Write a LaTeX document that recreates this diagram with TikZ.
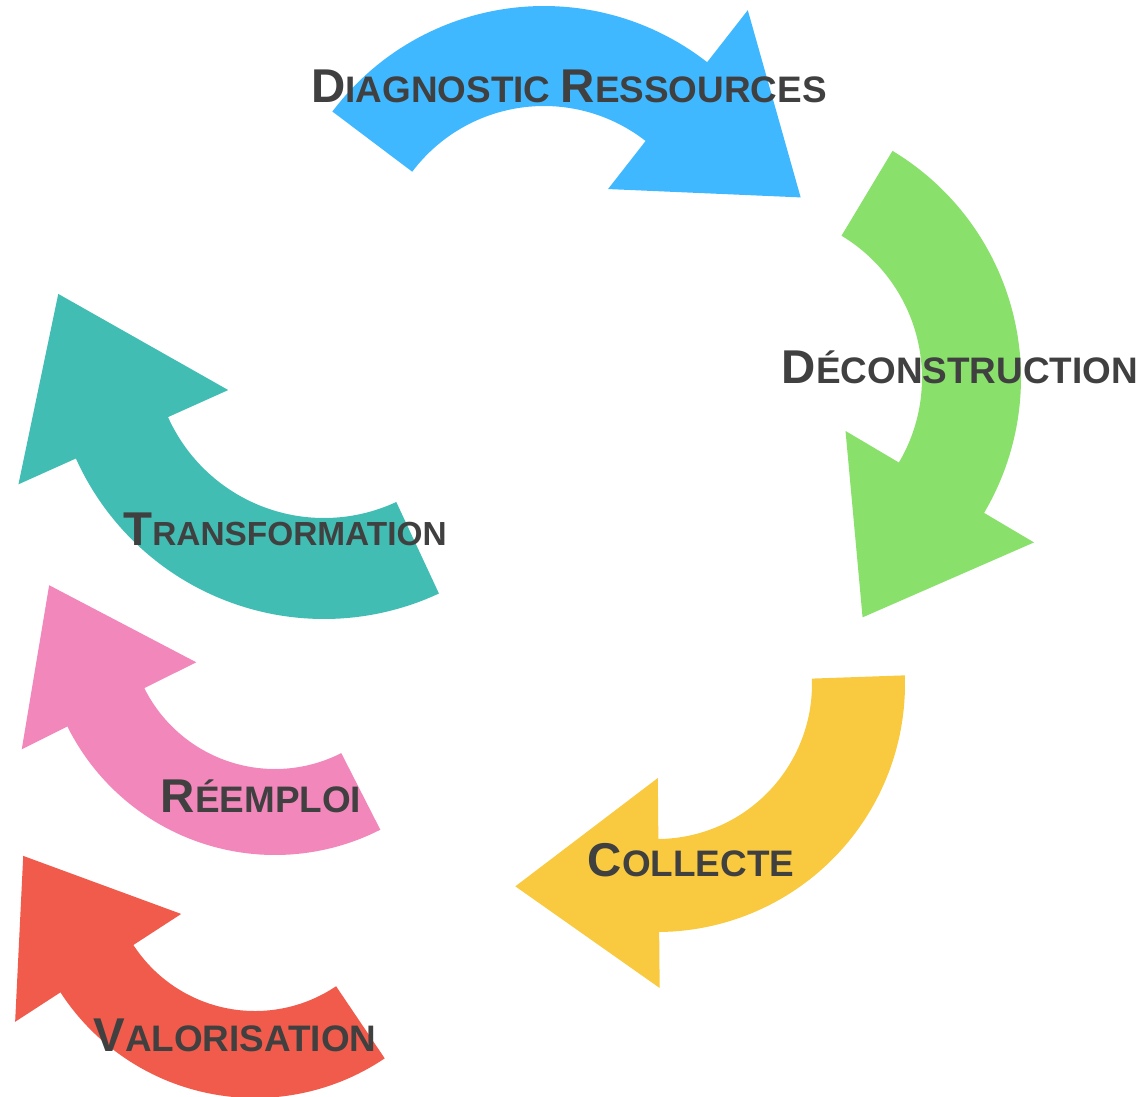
\documentclass[tikz,border=0pt]{standalone}
\usepackage{fontspec}
\setmainfont{Liberation Sans}
\usepackage{tikz}

\definecolor{diagblue}{HTML}{40B8FF}
\definecolor{decongreen}{HTML}{89E16B}
\definecolor{collyellow}{HTML}{F9CA3F}
\definecolor{transteal}{HTML}{41BDB4}
\definecolor{reempink}{HTML}{F287BB}
\definecolor{valored}{HTML}{F15B4B}
\definecolor{labelgray}{HTML}{404040}

\newcommand{\grand}{\fontsize{27}{30}\selectfont}
\newcommand{\petit}{\fontsize{21}{24}\selectfont}

\begin{document}
\begin{tikzpicture}[x=0.02cm, y=-0.02cm, samples=60,
		lbl/.style={text=labelgray, anchor=base, inner sep=0pt, font=\bfseries}]
		\useasboundingbox (0,0) rectangle (1145,1096);

		% Diagnostic ressources
		\begin{scope}[shift={(544,271)}]
			\fill[diagblue] plot[domain=217:308] (\x:265) -- (308:331) -- (344:267) -- (308:104)
				-- plot[domain=308:217] (\x:165) -- cycle;
		\end{scope}
		% Deconstruction
		\begin{scope}[shift={(756,378)}]
			\fill[decongreen] plot[domain=-59:30.6] (\x:265) -- (30.6:323) -- (66:262) -- (30.6:104)
				-- plot[domain=30.6:-59] (\x:166) -- cycle;
		\end{scope}
		% Collecte
		\begin{scope}[shift={(657,684)}]
			\fill[collyellow] plot[domain=-2:89.5] (\x:248) -- (89.5:304) -- (125:247) -- (89.5:94)
				-- plot[domain=89.5:-2] (\x:155) -- cycle;
		\end{scope}
		% Transformation
		\begin{scope}[shift={(324,347)}]
			\fill[transteal] plot[domain=65:155.8] (\x:272) -- (155.8:335) -- (191.3:271) -- (155.8:105)
				-- plot[domain=155.8:65] (\x:171) -- cycle;
		\end{scope}
		% Reemploi
		\begin{scope}[shift={(275,623)}]
			\fill[reempink] plot[domain=63:153.5] (\x:232) -- (153.5:283) -- (189.5:229) -- (153.5:88)
				-- plot[domain=153.5:63] (\x:146) -- cycle;
		\end{scope}
		% Valorisation
		\begin{scope}[shift={(255,866)}]
			\fill[valored] plot[domain=56:147] (\x:232) -- (147:286) -- (182.5:232) -- (147:88)
				-- plot[domain=147:56] (\x:145) -- cycle;
		\end{scope}

		\node[lbl] (diag) at (569,102) {\grand D\petit IAGNOSTIC \grand R\petit ESSOURCES};
		\node[lbl] (decon) at (960,383) {\grand D\petit ÉCONSTRUCTION};
		\node[lbl] (transfo) at (285,545) {\grand T\fontsize{19}{22}\selectfont RANSFORMATION};
		\node[lbl] (collecte) at (691,876) {\grand C\petit OLLECTE};
		\node[lbl] (reemploi) at (261,812) {\grand R\petit ÉEMPLOI};
		\node[lbl] (valo) at (235,1051) {\grand V\petit ALORISATION};
	\end{tikzpicture}
\end{document}
